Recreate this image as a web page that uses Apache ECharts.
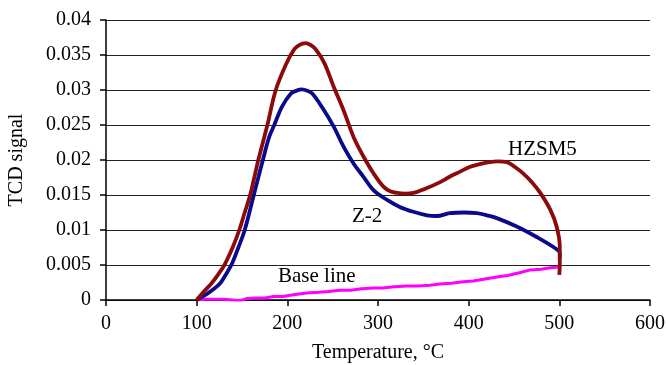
<!DOCTYPE html>
<html>
<head>
<meta charset="utf-8">
<script src="https://cdn.jsdelivr.net/npm/echarts@6/dist/echarts.min.js"></script>
<style>
  html, body { margin: 0; padding: 0; background: #fff; }
  #chart { width: 668px; height: 365px; }
</style>
</head>
<body>
<div id="chart"></div>
<script>
// TPD profiles: temperature (°C) and TCD signal for each sample
const hzsm5Temp = [100, 108, 116.5, 124, 131, 140, 147, 153, 159, 168, 178, 187, 199, 207, 213, 220, 226, 232, 241, 251, 262, 273, 284, 295, 306, 314, 321, 330, 339, 354, 368, 379, 390, 401, 412, 423, 432, 442, 451, 460, 470, 479, 490, 497, 500.5, 500.5, 500];
const hzsm5Val  = [0, 0.0012, 0.0024, 0.0037, 0.0051, 0.0076, 0.0100, 0.0125, 0.0150, 0.0200, 0.0250, 0.0299, 0.0338, 0.0357, 0.0364, 0.0367, 0.0364, 0.0357, 0.0338, 0.0305, 0.0271, 0.0233, 0.0205, 0.0181, 0.0162, 0.0155, 0.0153, 0.0152, 0.0153, 0.0160, 0.0168, 0.0176, 0.0183, 0.0190, 0.0194, 0.0197, 0.0198, 0.0197, 0.0190, 0.0181, 0.0168, 0.0153, 0.0129, 0.0105, 0.0076, 0.0053, 0.0036];

const z2Temp = [100, 107, 117, 126, 132, 138.6, 146, 153, 163, 173, 180, 185.6, 194, 204, 210, 216, 222, 227.5, 238, 251, 262, 273, 284, 295, 310, 324, 339, 354, 365, 379, 395, 409, 420, 431, 453, 475, 493, 500.5, 500.5];
const z2Val  = [0, 0.0005, 0.0014, 0.0024, 0.0036, 0.0051, 0.0075, 0.0100, 0.0150, 0.0200, 0.0233, 0.0250, 0.0276, 0.0295, 0.0299, 0.0301, 0.0299, 0.0295, 0.0276, 0.0248, 0.0219, 0.0195, 0.0176, 0.0157, 0.0143, 0.0133, 0.0126, 0.0121, 0.0120, 0.0124, 0.0125, 0.0124, 0.0121, 0.0117, 0.0105, 0.0090, 0.0076, 0.0067, 0.0060];

const baseTemp = [100, 110, 120, 130, 140, 148, 155, 165, 175, 185, 195, 205, 221, 235, 245, 258, 270, 282, 295, 305, 318, 332, 345, 357, 368, 381, 394, 405, 418, 431, 443, 456, 468, 480, 490, 500];
const baseVal  = [0, 0.0001, 0.0001, 0.0001, 0.0000, -0.0001, 0.0002, 0.0003, 0.0003, 0.0005, 0.0005, 0.0007, 0.0010, 0.0011, 0.0012, 0.0014, 0.0014, 0.0016, 0.0017, 0.0017, 0.0019, 0.0020, 0.0020, 0.0021, 0.0023, 0.0024, 0.0026, 0.0027, 0.0030, 0.0033, 0.0035, 0.0039, 0.0043, 0.0044, 0.0046, 0.0047];

const xTicks = { min: 0, max: 600, step: 100 };
const yTicks = { min: 0, max: 0.04, step: 0.005 };

const FONT = 'Liberation Serif';

function pairs(xs, ys) { return xs.map((x, i) => [x, ys[i]]); }

const chart = echarts.init(document.getElementById('chart'), null, { renderer: 'canvas' });

chart.setOption({
  animation: false,
  backgroundColor: '#ffffff',
  grid: { left: 106, right: 18, top: 20, bottom: 65, containLabel: false, outerBoundsMode: 'none' },
  xAxis: {
    type: 'value',
    min: xTicks.min, max: xTicks.max, interval: xTicks.step,
    name: 'Temperature, °C',
    nameLocation: 'middle',
    nameGap: 43,
    nameTextStyle: { fontFamily: FONT, fontSize: 20, color: '#000' },
    axisLine: { lineStyle: { color: '#000', width: 1.5 } },
    axisTick: { show: true, inside: false, length: 6, lineStyle: { color: '#000', width: 1.5 } },
    axisLabel: { fontFamily: FONT, fontSize: 20, color: '#000', margin: 14 },
    splitLine: { show: false }
  },
  yAxis: {
    type: 'value',
    min: yTicks.min, max: yTicks.max, interval: yTicks.step,
    name: 'TCD signal',
    nameLocation: 'middle',
    nameGap: 79,
    nameTextStyle: { fontFamily: FONT, fontSize: 20, color: '#000' },
    axisLine: { show: true, lineStyle: { color: '#000', width: 1.5 } },
    axisTick: { show: true, inside: false, length: 6, lineStyle: { color: '#000', width: 1.5 } },
    axisLabel: {
      fontFamily: FONT, fontSize: 20, color: '#000', margin: 15,
      formatter: v => String(+v.toFixed(3))
    },
    splitLine: { show: true, lineStyle: { color: '#222', width: 1 } }
  },
  series: [
    {
      name: 'HZSM5', type: 'line', showSymbol: false, smooth: 0.35,
      data: pairs(hzsm5Temp, hzsm5Val),
      lineStyle: { color: '#8b0a0a', width: 3.8 }, z: 3
    },
    {
      name: 'Z-2', type: 'line', showSymbol: false, smooth: 0.35,
      data: pairs(z2Temp, z2Val),
      lineStyle: { color: '#0a0a8c', width: 3.8 }, z: 2
    },
    {
      name: 'Base line', type: 'line', showSymbol: false, smooth: false,
      data: pairs(baseTemp, baseVal),
      lineStyle: { color: '#ff00ff', width: 3 }, z: 1
    }
  ],
  graphic: [
    { type: 'text', left: 508, top: 139, style: { text: 'HZSM5', font: '21px "Liberation Serif"', fill: '#000' } },
    { type: 'text', left: 352, top: 206, style: { text: 'Z-2', font: '21px "Liberation Serif"', fill: '#000' } },
    { type: 'text', left: 278, top: 266, style: { text: 'Base line', font: '21px "Liberation Serif"', fill: '#000' } }
  ]
});
</script>
</body>
</html>
